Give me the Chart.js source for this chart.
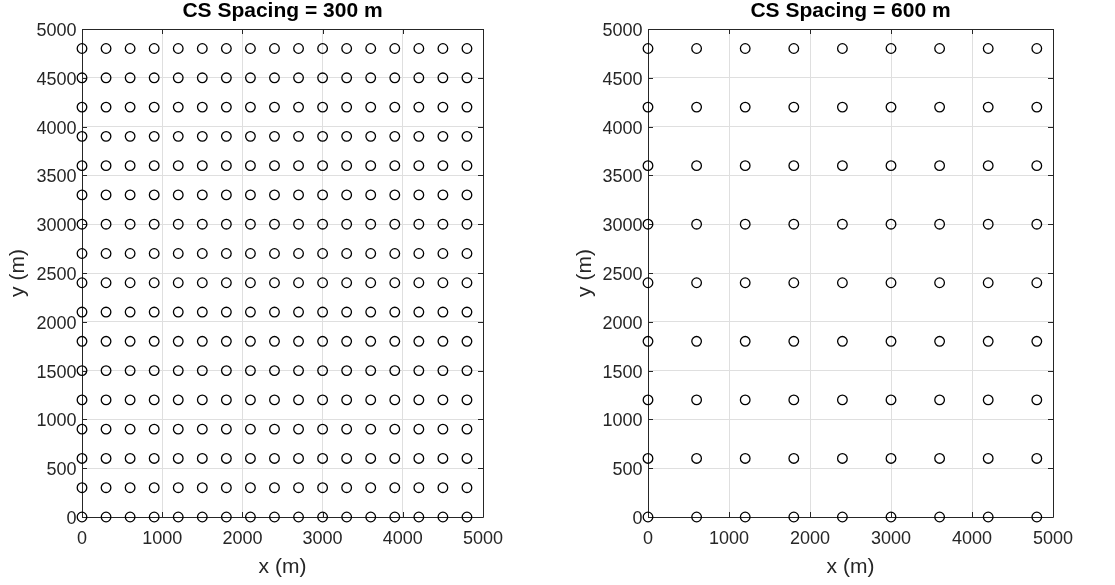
<!DOCTYPE html>
<html>
<head>
<meta charset="utf-8">
<script src="https://cdn.jsdelivr.net/npm/chart.js@4"></script>
<style>
  html, body { margin: 0; padding: 0; background: #fff; }
  #wrap { position: relative; width: 1115px; height: 585px; overflow: hidden; }
  .box { position: absolute; top: 0; }
</style>
</head>
<body>
<div id="wrap">
  <div class="box" style="left:0px;width:557px;height:585px;"><canvas id="c1" width="557" height="585"></canvas></div>
  <div class="box" style="left:557px;width:558px;height:585px;"><canvas id="c2" width="558" height="585"></canvas></div>
</div>
<script>
// ---- Data ----
const titleLeft = 'CS Spacing = 300 m';
const titleRight = 'CS Spacing = 600 m';
const xLabel = 'x (m)';
const yLabel = 'y (m)';

// Station coordinates (m) along each axis
const coords300 = [0, 300, 600, 900, 1200, 1500, 1800, 2100, 2400, 2700, 3000, 3300, 3600, 3900, 4200, 4500, 4800];
const coords600 = [0, 600, 1200, 1800, 2400, 3000, 3600, 4200, 4800];

// Tick labels
const xTicks = [0, 1000, 2000, 3000, 4000, 5000];
const yTicks = [0, 500, 1000, 1500, 2000, 2500, 3000, 3500, 4000, 4500, 5000];
const axisMin = 0;
const axisMax = 5000;

// ---- Build point tables ----
function gridPoints(xs, ys) {
  const pts = [];
  for (const y of ys) for (const x of xs) pts.push({ x: x, y: y });
  return pts;
}

const FONT = '"Liberation Sans", Arial, Helvetica, sans-serif';
const TXT = '#262626';
const GRID = '#dfdfdf';

const matlabAxes = {
  id: 'matlabAxes',
  beforeDatasetsDraw(chart) {
    const { ctx, chartArea: a, scales } = chart;
    const tl = 5;
    ctx.save();
    ctx.strokeStyle = TXT;
    ctx.lineWidth = 1;
    ctx.beginPath();
    for (const v of xTicks) {
      const px = Math.round(scales.x.getPixelForValue(v)) + 0.5;
      ctx.moveTo(px, a.bottom); ctx.lineTo(px, a.bottom - tl);
      ctx.moveTo(px, a.top); ctx.lineTo(px, a.top + tl);
    }
    for (const v of yTicks) {
      const py = Math.round(scales.y.getPixelForValue(v)) + 0.5;
      ctx.moveTo(a.left, py); ctx.lineTo(a.left + tl, py);
      ctx.moveTo(a.right, py); ctx.lineTo(a.right - tl, py);
    }
    ctx.stroke();
    ctx.beginPath();
    ctx.rect(Math.round(a.left) + 0.5, Math.round(a.top) + 0.5,
             Math.round(a.right - a.left), Math.round(a.bottom - a.top));
    ctx.stroke();
    ctx.restore();
  },
  afterDraw(chart, args, opts) {
    const { ctx, chartArea: a } = chart;
    ctx.save();
    ctx.fillStyle = '#000';
    ctx.font = 'bold 21px ' + FONT;
    ctx.textAlign = 'center';
    ctx.textBaseline = 'middle';
    ctx.fillText(opts.text, (a.left + a.right) / 2, 11.5);
    ctx.restore();
  }
};

function makeChart(id, title, xs, ys, padRight, yTitlePad) {
  const area = { top: 29, bottom: 517 };
  const yAxisWidth = id === 'c1' ? 82 : 91;
  return new Chart(document.getElementById(id), {
    type: 'scatter',
    data: {
      datasets: [{
        data: gridPoints(xs, ys),
        pointStyle: 'circle',
        pointRadius: 4.8,
        pointHoverRadius: 4.8,
        borderColor: '#000',
        backgroundColor: 'rgba(0,0,0,0)',
        borderWidth: 1.3,
        clip: false
      }]
    },
    options: {
      responsive: false,
      animation: false,
      devicePixelRatio: 1,
      layout: { padding: { left: 0, top: area.top, right: padRight, bottom: 0 } },
      plugins: {
        legend: { display: false },
        tooltip: { enabled: false },
        title: { display: false },
        matlabAxes: { text: title }
      },
      scales: {
        x: {
          type: 'linear',
          min: axisMin, max: axisMax,
          afterBuildTicks(s) { s.ticks = xTicks.map(v => ({ value: v })); },
          afterFit(s) { s.height = 585 - area.bottom; },
          grid: { color: GRID, lineWidth: 1, drawTicks: false },
          border: { display: false },
          ticks: { color: TXT, font: { family: FONT, size: 18 }, padding: 11.6, maxRotation: 0, autoSkip: false,
                   callback: v => String(v) },
          title: { display: true, text: xLabel, color: TXT, font: { family: FONT, size: 21 }, padding: { top: 0, bottom: 5.4 } }
        },
        y: {
          type: 'linear',
          min: axisMin, max: axisMax,
          afterBuildTicks(s) { s.ticks = yTicks.map(v => ({ value: v })); },
          afterFit(s) { s.width = yAxisWidth; },
          grid: { color: GRID, lineWidth: 1, drawTicks: false },
          border: { display: false },
          ticks: { color: TXT, font: { family: FONT, size: 18 }, padding: 5.5, labelOffset: 2, autoSkip: false,
                   callback: v => String(v) },
          title: { display: true, text: yLabel, color: TXT, font: { family: FONT, size: 21 }, padding: { top: yTitlePad, bottom: 0 } }
        }
      }
    },
    plugins: [matlabAxes]
  });
}

makeChart('c1', titleLeft, coords300, coords300, 557 - 483, 5.4);
makeChart('c2', titleRight, coords600, coords600, 558 - 496, 15.4);
</script>
</body>
</html>
